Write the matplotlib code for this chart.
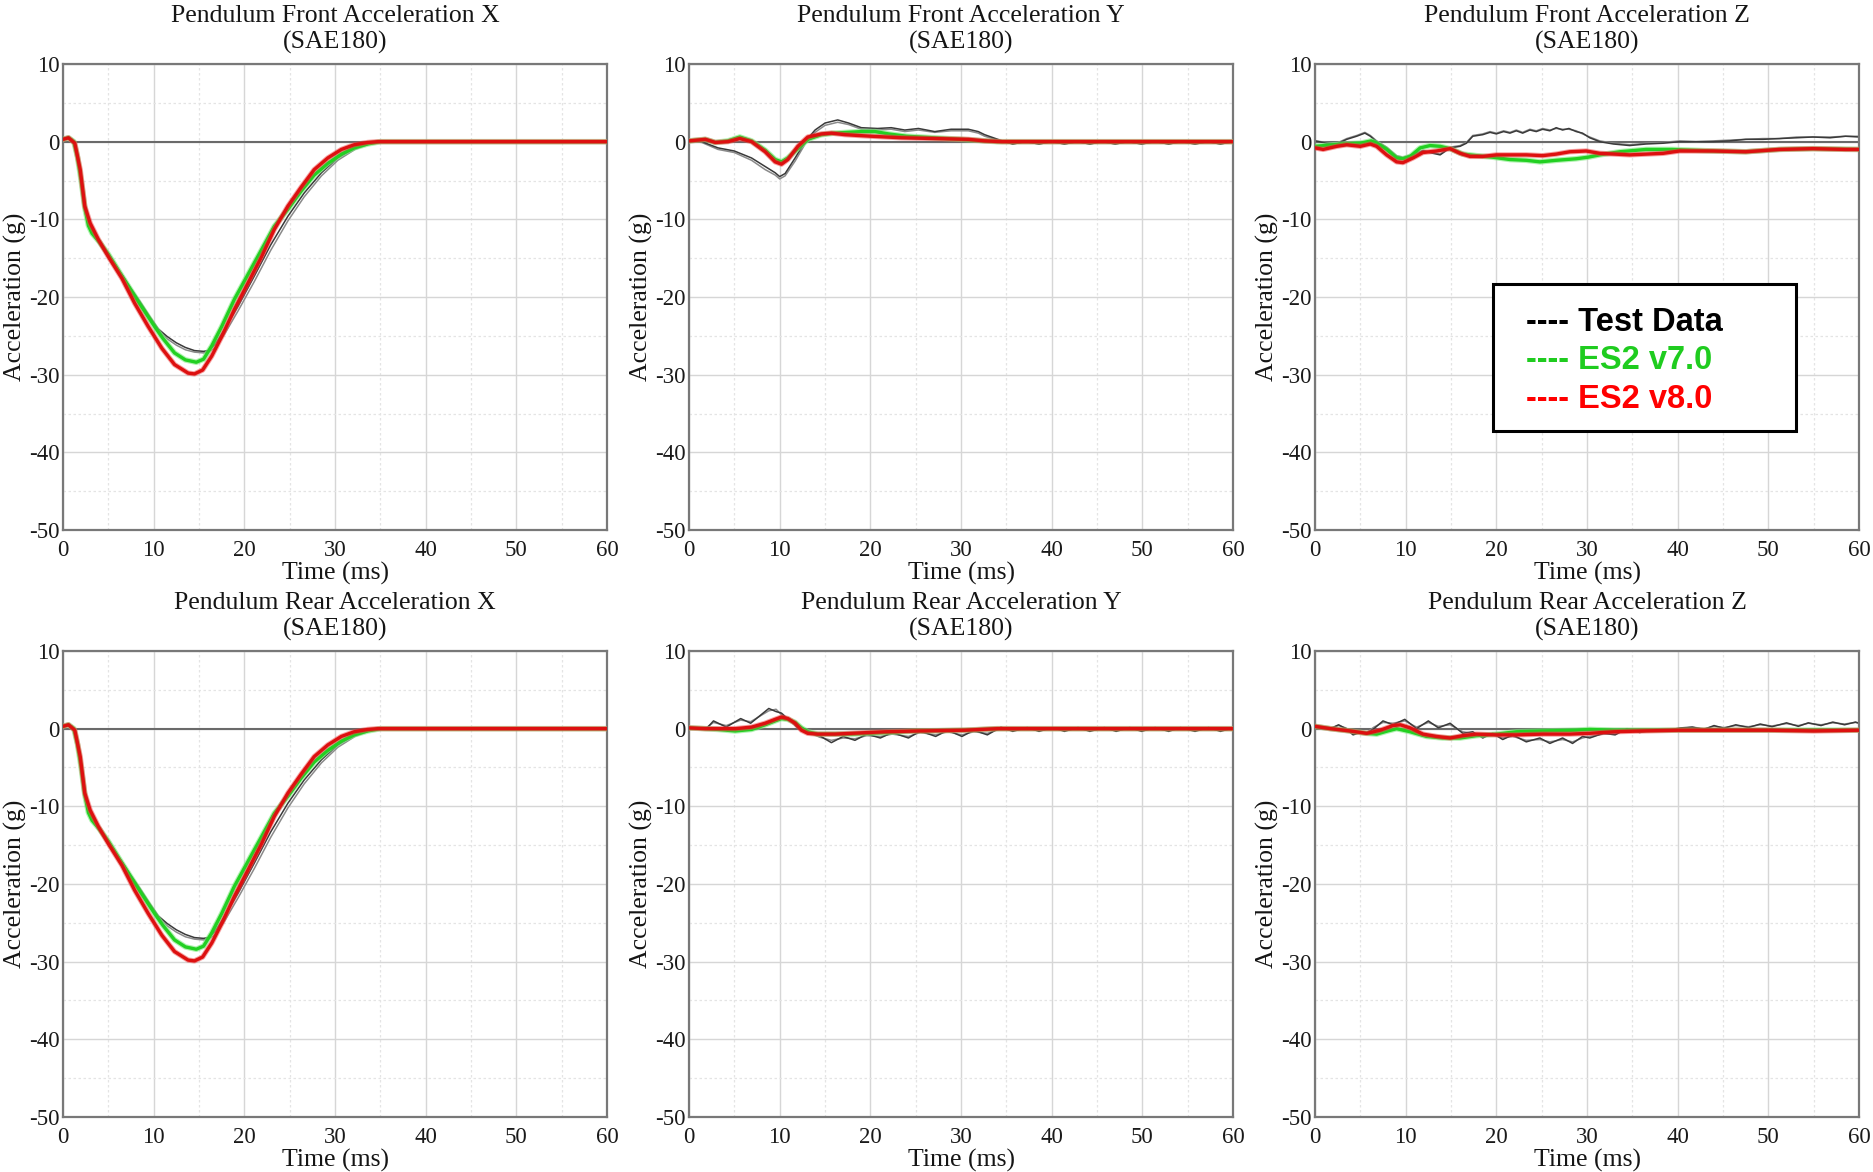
import matplotlib
matplotlib.use("Agg")
import matplotlib.pyplot as plt
from matplotlib.ticker import MultipleLocator, FuncFormatter
from matplotlib.patches import Rectangle

plt.rcParams['axes.unicode_minus'] = False
SERIF = ['Liberation Serif', 'DejaVu Serif']
SANS = ['Liberation Sans', 'DejaVu Sans']

# ---------------- data (time in ms, acceleration in g) ----------------
# Front X
fx_test_t = [0, 0.5, 1.0, 1.5, 2.0, 2.5, 3.0, 3.5, 4.5, 5.5, 6.5, 7.5, 8.5, 9.5, 10.5, 11.5, 12.5, 13.5, 14.5, 15.5,
             16.0, 16.7, 17.8, 19.3, 21.1, 22.9, 24.8, 26.6, 28.5, 30.3, 32.2, 34.0, 35.0, 60]
fx_test1 = [0.2, 0.5, 0.3, -1.5, -5.0, -9.0, -11.3, -12.3, -14.0, -15.8, -17.1, -18.9, -20.6, -22.4, -24.1, -25.1, -25.9, -26.5, -26.9, -27.0,
            -26.9, -26.2, -24.2, -21.2, -17.3, -13.3, -9.6, -6.6, -4.0, -2.1, -0.8, -0.1, 0.0, 0.0]
fx_test2 = [0.2, 0.5, 0.3, -1.4, -4.8, -8.8, -11.2, -12.2, -13.9, -15.7, -17.2, -19.1, -20.9, -22.7, -24.3, -25.4, -26.2, -26.8, -27.1, -27.2,
            -27.1, -26.6, -24.8, -21.8, -18.0, -14.0, -10.2, -7.1, -4.4, -2.4, -1.0, -0.2, 0.0, 0.0]
fx_v7_t = [0, 0.6, 1.2, 1.6, 2.0, 2.4, 2.8, 3.2, 4.0, 5.0, 6.5, 8.3, 10.1, 11.0, 12.3, 13.5, 14.7, 15.5, 16.4, 17.5,
           18.9, 20.4, 21.9, 23.3, 24.8, 26.3, 27.7, 29.2, 30.7, 32.1, 33.6, 35.0, 60]
fx_v7 = [0.3, 0.5, 0.0, -2.0, -5.0, -8.5, -10.8, -11.8, -12.9, -14.5, -17.3, -20.6, -23.8, -25.3, -27.2, -28.1, -28.4, -28.0, -26.3, -23.8,
         -20.3, -17.1, -13.9, -10.9, -8.7, -6.3, -4.3, -2.8, -1.6, -0.8, -0.3, 0.0, 0.0]
fx_v8_t = [0, 0.6, 1.3, 1.9, 2.4, 3.0, 3.9, 5.0, 6.5, 7.9, 9.4, 10.9, 12.3, 13.8, 14.5, 15.4, 16.4, 17.5, 18.9, 20.4,
           21.9, 23.3, 24.8, 26.3, 27.7, 29.2, 30.7, 32.1, 33.6, 34.7, 60]
fx_v8 = [0.3, 0.5, -0.2, -3.6, -8.3, -10.5, -12.6, -14.8, -17.6, -20.8, -23.8, -26.6, -28.7, -29.8, -29.9, -29.4, -27.6, -25.1, -21.6, -18.2,
         -14.8, -11.3, -8.3, -5.8, -3.6, -2.1, -1.0, -0.4, -0.1, 0.0, 0.0]

# Rear X (reads the same as Front X in the picture)
rx_test_t, rx_test1, rx_test2 = fx_test_t, fx_test1, fx_test2
rx_v7_t, rx_v7 = fx_v7_t, fx_v7
rx_v8_t, rx_v8 = fx_v8_t, fx_v8

# Front Y
fy_test_t = [0, 1.4, 3.2, 5.0, 6.9, 8.4, 9.5, 10.0, 10.6, 11.7, 12.8, 13.9, 15.0, 16.4, 17.6, 19.0, 20.8, 22.3, 23.8, 25.3,
             27.1, 28.9, 30.8, 31.9, 32.6, 34.3, 35.7, 37.1, 38.6, 40.0, 41.4, 42.8, 44.2, 45.6, 47.0, 48.4, 49.9, 51.4, 52.9, 54.3,
             55.8, 57.2, 58.6, 60]
fy_test1 = [0.1, 0.0, -0.8, -1.2, -2.1, -3.2, -4.0, -4.5, -4.1, -2.1, 0.0, 1.5, 2.4, 2.8, 2.4, 1.8, 1.7, 1.8, 1.5, 1.7,
            1.3, 1.6, 1.6, 1.3, 0.9, 0.2, -0.3, 0.0, -0.3, 0.0, -0.3, 0.0, -0.3, 0.0, -0.3, 0.0, -0.3, 0.0, -0.3, 0.0,
            -0.3, 0.0, -0.3, 0.0]
fy_test2 = [0.1, -0.1, -1.0, -1.4, -2.4, -3.6, -4.3, -4.8, -4.4, -2.5, -0.3, 1.2, 2.1, 2.5, 2.2, 1.6, 1.5, 1.6, 1.3, 1.5,
            1.2, 1.4, 1.4, 1.1, 0.7, 0.1, -0.3, 0.0, -0.3, 0.0, -0.3, 0.0, -0.3, 0.0, -0.3, 0.0, -0.3, 0.0, -0.3, 0.0,
            -0.3, 0.0, -0.3, 0.0]
fy_v7_t = [0, 1.8, 2.9, 4.3, 5.6, 6.9, 8.4, 9.5, 10.2, 10.9, 12.0, 13.1, 14.6, 16.0, 17.5, 19.0, 20.5, 22.0, 24.0, 27.0,
           30.0, 34.0, 60]
fy_v7 = [0.1, 0.3, -0.1, 0.1, 0.6, 0.1, -1.1, -2.3, -2.6, -2.1, -0.9, 0.3, 0.9, 1.1, 1.2, 1.3, 1.3, 1.0, 0.7, 0.5,
         0.3, 0.0, 0.0]
fy_v8_t = [0, 1.8, 2.9, 4.3, 5.6, 6.9, 8.4, 9.5, 10.2, 10.9, 12.0, 13.1, 14.6, 15.7, 17.2, 18.6, 20.1, 23.4, 27.1, 30.8,
           32.6, 34.5, 60]
fy_v8 = [0.1, 0.3, -0.1, 0.0, 0.4, 0.0, -1.3, -2.6, -2.9, -2.3, -0.6, 0.6, 1.0, 1.1, 0.9, 0.8, 0.7, 0.5, 0.4, 0.3,
         0.1, 0.0, 0.0]

# Front Z
fz_test_t = [0, 1.3, 2.4, 3.5, 4.6, 5.5, 6.1, 6.8, 7.9, 9.0, 9.7, 10.8, 11.9, 13.0, 13.8, 14.9, 16.0, 16.7, 17.4, 18.5,
             19.3, 20.0, 20.8, 21.5, 22.2, 22.9, 23.7, 24.4, 25.1, 25.9, 26.6, 27.3, 28.0, 28.8, 29.5, 30.3, 31.4, 32.9, 34.7, 36.5,
             38.4, 40.2, 42.0, 43.9, 45.7, 47.5, 49.4, 51.2, 53.1, 54.9, 56.8, 58.5, 60]
fz_test1 = [0.1, -0.2, -0.3, 0.3, 0.7, 1.1, 0.7, 0.0, -0.8, -1.9, -2.1, -1.7, -1.2, -1.5, -1.7, -0.8, -0.6, -0.2, 0.7, 0.9,
            1.2, 1.0, 1.3, 1.1, 1.4, 1.1, 1.5, 1.3, 1.6, 1.4, 1.8, 1.5, 1.7, 1.3, 1.1, 0.5, 0.0, -0.3, -0.5, -0.3,
            -0.2, 0.0, 0.0, 0.0, 0.1, 0.3, 0.3, 0.4, 0.5, 0.6, 0.5, 0.7, 0.6]
fz_test2 = [0.1, -0.1, -0.2, 0.4, 0.8, 1.2, 0.8, 0.1, -0.7, -1.8, -2.0, -1.6, -1.1, -1.4, -1.6, -0.7, -0.5, -0.1, 0.8, 1.0,
            1.3, 1.1, 1.4, 1.2, 1.5, 1.2, 1.6, 1.4, 1.7, 1.5, 1.7, 1.6, 1.6, 1.4, 1.0, 0.6, 0.1, -0.2, -0.4, -0.2,
            -0.1, 0.1, 0.0, 0.1, 0.2, 0.3, 0.4, 0.4, 0.6, 0.6, 0.6, 0.7, 0.7]
fz_v7_t = [0, 3.1, 5.0, 6.2, 6.8, 7.9, 9.0, 9.7, 10.5, 11.6, 12.7, 13.8, 14.9, 16.3, 17.8, 19.6, 21.5, 23.3, 24.8, 26.6,
           28.8, 30.1, 31.4, 33.6, 36.5, 39.4, 43.9, 47.5, 51.2, 54.9, 60]
fz_v7 = [-0.6, -0.3, -0.2, 0.1, -0.2, -1.0, -2.1, -2.2, -1.9, -0.8, -0.5, -0.6, -0.9, -1.6, -1.8, -2.0, -2.3, -2.4, -2.6, -2.4,
         -2.2, -2.0, -1.7, -1.3, -1.0, -1.0, -1.2, -1.3, -1.0, -0.9, -1.0]
fz_v8_t = [0, 0.9, 2.4, 3.5, 5.0, 6.1, 6.8, 7.9, 9.0, 9.7, 10.8, 11.9, 13.4, 14.9, 16.0, 17.1, 18.5, 20.0, 21.5, 23.3,
           25.1, 26.6, 28.1, 29.9, 31.4, 34.7, 38.4, 40.2, 43.9, 47.5, 51.2, 54.9, 58.5, 60]
fz_v8 = [-0.8, -1.0, -0.6, -0.4, -0.6, -0.3, -0.6, -1.7, -2.6, -2.7, -2.1, -1.4, -1.2, -0.9, -1.5, -1.9, -1.9, -1.7, -1.7, -1.7,
         -1.8, -1.6, -1.3, -1.2, -1.5, -1.7, -1.5, -1.2, -1.2, -1.3, -1.0, -0.9, -1.0, -1.0]

# Rear Y
ry_test_t = [0, 2.0, 2.7, 4.1, 5.7, 6.8, 8.8, 9.6, 10.2, 12.0, 13.3, 14.4, 15.7, 17.0, 18.3, 19.6, 21.1, 22.4, 24.2, 25.5,
             27.2, 28.5, 30.1, 31.4, 32.9, 34.4, 35.7, 37.3, 38.6, 40.1, 41.4, 42.9, 44.2, 45.8, 47.1, 48.6, 49.9, 51.4, 52.9, 54.2,
             55.8, 57.3, 58.6, 60]
ry_test1 = [0.0, 0.1, 1.0, 0.2, 1.3, 0.7, 2.6, 2.2, 2.0, 0.1, -0.6, -0.9, -1.8, -1.0, -1.5, -0.7, -1.2, -0.5, -1.2, -0.3,
            -1.0, -0.2, -1.0, -0.2, -0.8, 0.2, -0.35, 0.15, -0.35, 0.15, -0.35, 0.15, -0.35, 0.15, -0.35, 0.15, -0.35, 0.15, -0.35, 0.15,
            -0.35, 0.15, -0.35, 0.1]
ry_test2 = [0.0, 0.2, 0.8, 0.4, 1.1, 0.9, 2.3, 2.5, 1.8, 0.3, -0.5, -1.1, -1.5, -1.2, -1.3, -0.9, -1.0, -0.7, -1.0, -0.5,
            -0.8, -0.4, -0.8, -0.4, -0.6, 0.0, -0.2, 0.0, -0.2, 0.0, -0.2, 0.0, -0.2, 0.0, -0.2, 0.0, -0.2, 0.0, -0.2, 0.0,
            -0.2, 0.0, -0.2, 0.0]
ry_sim_t = [0, 1.8, 3.2, 5.1, 6.9, 8.4, 9.5, 10.2, 10.9, 11.7, 12.4, 13.1, 14.2, 16.1, 17.9, 19.7, 21.6, 25.2, 30.4, 34.0, 60]
ry_v7 = [0.1, 0.0, -0.1, -0.3, -0.1, 0.5, 1.0, 1.3, 1.2, 0.8, 0.1, -0.4, -0.7, -0.7, -0.7, -0.6, -0.5, -0.3, -0.2, 0.0, 0.0]
ry_v8 = [0.1, 0.0, 0.0, 0.0, 0.2, 0.7, 1.2, 1.5, 1.3, 0.7, -0.2, -0.6, -0.7, -0.7, -0.6, -0.5, -0.4, -0.3, -0.2, 0.0, 0.0]

# Rear Z
rz_test_t = [0, 1.7, 2.6, 3.4, 4.2, 5.0, 5.7, 6.5, 7.5, 8.6, 9.9, 11.2, 12.5, 13.6, 14.9, 16.3, 17.4, 18.5, 19.6, 20.7,
             21.8, 23.3, 24.8, 25.9, 27.3, 28.4, 29.5, 30.3, 31.8, 33.1, 34.4, 35.8, 37.6, 38.9, 40.3, 41.6, 42.9, 44.0, 45.1, 46.4,
             47.8, 49.1, 50.4, 52.0, 53.3, 54.4, 55.8, 57.1, 58.4, 59.6, 60]
rz_test1 = [0.3, 0.0, 0.5, 0.0, -0.8, -0.5, -0.6, 0.0, 1.0, 0.5, 1.2, 0.0, 1.0, 0.1, 0.7, -0.6, -0.4, -1.2, -0.6, -1.4,
            -0.8, -1.7, -1.2, -1.9, -1.2, -1.9, -1.0, -1.2, -0.6, -0.8, 0.0, -0.5, -0.1, -0.2, 0.1, 0.2, -0.1, 0.4, 0.05, 0.5,
            0.15, 0.6, 0.25, 0.75, 0.3, 0.75, 0.4, 0.85, 0.5, 0.85, 0.7]
rz_test2 = [0.3, 0.1, 0.4, 0.1, -0.6, -0.6, -0.5, 0.2, 0.8, 0.7, 1.0, 0.2, 0.8, 0.3, 0.5, -0.4, -0.6, -1.0, -0.8, -1.2,
            -1.0, -1.5, -1.4, -1.7, -1.4, -1.7, -1.2, -1.0, -0.7, -0.6, -0.1, -0.3, -0.2, -0.1, 0.0, 0.2, 0.0, 0.3, 0.15, 0.4,
            0.25, 0.5, 0.35, 0.65, 0.4, 0.7, 0.5, 0.75, 0.6, 0.8, 0.7]
rz_v7_t = [0, 1.7, 3.9, 5.7, 6.8, 8.0, 9.0, 10.5, 12.3, 14.1, 16.0, 17.8, 20.0, 22.2, 25.1, 28.8, 30.3, 33.0, 36.0, 40.0, 60]
rz_v7 = [0.3, 0.0, -0.3, -0.6, -0.7, -0.3, 0.0, -0.4, -1.0, -1.2, -1.2, -0.9, -0.7, -0.4, -0.3, -0.2, -0.1, -0.2, -0.2, -0.2, -0.2]
rz_v8_t = [0, 1.7, 3.9, 5.7, 7.2, 8.6, 9.4, 10.5, 11.9, 13.4, 14.9, 16.3, 17.8, 20.0, 22.2, 25.1, 28.1, 30.3, 33.0, 36.0,
           40.0, 45.0, 50.0, 55.0, 60]
rz_v8 = [0.3, 0.0, -0.3, -0.6, -0.2, 0.4, 0.5, 0.1, -0.7, -1.0, -1.2, -0.9, -0.7, -0.8, -0.8, -0.7, -0.7, -0.6, -0.4, -0.3,
         -0.2, -0.2, -0.2, -0.3, -0.2]

titles = ["Pendulum Front Acceleration X", "Pendulum Front Acceleration Y", "Pendulum Front Acceleration Z",
          "Pendulum Rear Acceleration X", "Pendulum Rear Acceleration Y", "Pendulum Rear Acceleration Z"]
legend_labels = ["---- Test Data", "---- ES2 v7.0", "---- ES2 v8.0"]
legend_colors = ["#000000", "#1fcc1f", "#ff0000"]

panels = [
    (fx_test_t, fx_test1, fx_test2, fx_v7_t, fx_v7, fx_v8_t, fx_v8),
    (fy_test_t, fy_test1, fy_test2, fy_v7_t, fy_v7, fy_v8_t, fy_v8),
    (fz_test_t, fz_test1, fz_test2, fz_v7_t, fz_v7, fz_v8_t, fz_v8),
    (rx_test_t, rx_test1, rx_test2, rx_v7_t, rx_v7, rx_v8_t, rx_v8),
    (ry_test_t, ry_test1, ry_test2, ry_sim_t, ry_v7, ry_sim_t, ry_v8),
    (rz_test_t, rz_test1, rz_test2, rz_v7_t, rz_v7, rz_v8_t, rz_v8),
]

# ---------------- figure ----------------
fig = plt.figure(figsize=(18.73, 11.72), dpi=100)
lefts = [0.03364, 0.36786, 0.70208]
bottoms = [0.54778, 0.04693]
W, H = 0.2905, 0.39761

fmt = FuncFormatter(lambda v, p: "%d" % v)

axes = []
for i, (title, data) in enumerate(zip(titles, panels)):
    r, c = divmod(i, 3)
    ax = fig.add_axes([lefts[c], bottoms[r], W, H])
    axes.append(ax)
    tt, t1, t2, gt, gv, rt, rv = data
    ax.set_xlim(0, 60)
    ax.set_ylim(-50, 10)
    ax.xaxis.set_major_locator(MultipleLocator(10))
    ax.xaxis.set_minor_locator(MultipleLocator(5))
    ax.yaxis.set_major_locator(MultipleLocator(10))
    ax.yaxis.set_minor_locator(MultipleLocator(5))
    ax.xaxis.set_major_formatter(fmt)
    ax.yaxis.set_major_formatter(fmt)
    ax.grid(which='major', color='#d6d6d6', lw=1.0, zorder=0)
    ax.grid(which='minor', color='#e4e4e4', lw=0.9, ls=(0, (2, 2)), zorder=0)
    ax.set_axisbelow(True)
    ax.axhline(0, color='#6a6a6a', lw=1.5, zorder=1.5)

    ax.plot(tt, t2, color='#8a8a8a', lw=1.1, zorder=2)
    ax.plot(tt, t1, color='#3a3a3a', lw=1.1, zorder=2.1)
    ax.plot(gt, gv, color='#7dea7d', lw=4.0, alpha=0.6, zorder=2.9, solid_capstyle='round')
    ax.plot(gt, gv, color='#22d022', lw=2.4, zorder=3, solid_capstyle='round')
    ax.plot(rt, rv, color='#ee4444', lw=3.8, alpha=0.5, zorder=3.9, solid_capstyle='round')
    ax.plot(rt, rv, color='#dd1010', lw=2.4, zorder=4, solid_capstyle='round')

    for sp in ax.spines.values():
        sp.set_color('#787878')
        sp.set_linewidth(1.6)
    ax.tick_params(which='both', length=0, labelsize=16.5, colors='#1a1a1a')
    ax.tick_params(axis='x', pad=7)
    ax.tick_params(axis='y', pad=2.5)
    for lab in ax.get_xticklabels() + ax.get_yticklabels():
        lab.set_fontfamily(SERIF)

    ax.set_title(title + "\n(SAE180)", fontsize=18.5, family=SERIF, color='#151515',
                 linespacing=1.25, pad=11)
    ax.set_xlabel("Time (ms)", fontsize=18.5, family=SERIF, color='#151515')
    ax.set_ylabel("Acceleration (g)", fontsize=18.5, family=SERIF, color='#151515')
    ax.xaxis.set_label_coords(0.5, -0.069)
    ax.yaxis.set_label_coords(-0.066, 0.5)

# legend box inside the Front Z panel
lax = axes[2]
lax.add_patch(Rectangle((0.328, 0.2124), 0.556, 0.3156, transform=lax.transAxes,
                        facecolor='white', edgecolor='black', lw=2.2, zorder=6))
for k, (lab, col) in enumerate(zip(legend_labels, legend_colors)):
    lax.text(0.3875, 0.4455 - k * 0.0825, lab, transform=lax.transAxes, color=col,
             fontsize=23.5, fontweight='bold', family=SANS, va='center', ha='left', zorder=7)

fig.savefig("out.png", dpi=100)
